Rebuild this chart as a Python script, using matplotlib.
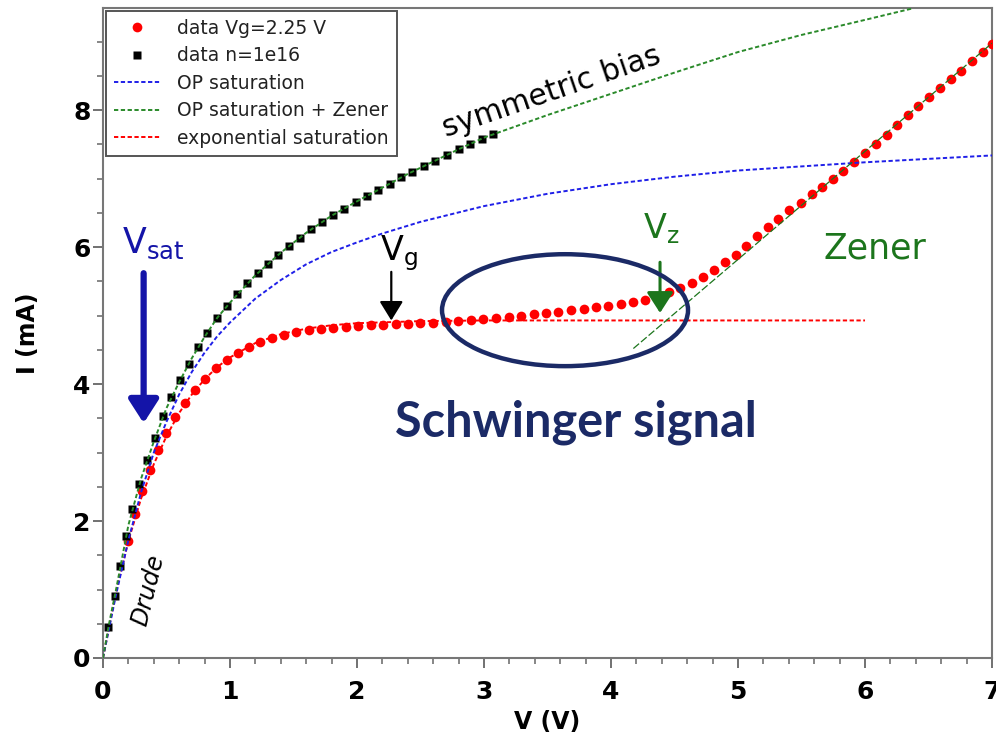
import numpy as np
import matplotlib.pyplot as plt
from matplotlib.patches import Ellipse
from matplotlib.ticker import MultipleLocator

# measured I-V points, V in volts, I in mA
vg_v = [0.194, 0.252, 0.307, 0.37, 0.43, 0.498, 0.569, 0.643, 0.722, 0.803,
        0.887, 0.974, 1.06, 1.15, 1.24, 1.333, 1.428, 1.522, 1.62, 1.714,
        1.813, 1.91, 2.008, 2.108, 2.207, 2.307, 2.404, 2.5, 2.6, 2.698,
        2.797, 2.90, 2.995, 3.092, 3.194, 3.291, 3.394, 3.488, 3.583, 3.685,
        3.785, 3.88, 3.974, 4.076, 4.171, 4.268, 4.365, 4.458, 4.546, 4.636,
        4.724, 4.811, 4.90, 4.984, 5.065, 5.152, 5.238, 5.317, 5.404, 5.494,
        5.58, 5.664, 5.746, 5.829, 5.916, 6.0, 6.087, 6.171, 6.254, 6.339,
        6.42, 6.506, 6.591, 6.675, 6.756, 6.84, 6.927, 6.998]
vg_i = [1.71, 2.10, 2.44, 2.74, 3.04, 3.28, 3.52, 3.73, 3.92, 4.08,
        4.23, 4.35, 4.45, 4.54, 4.61, 4.67, 4.72, 4.76, 4.79, 4.81,
        4.82, 4.84, 4.85, 4.86, 4.87, 4.88, 4.88, 4.89, 4.90, 4.91,
        4.92, 4.93, 4.95, 4.96, 4.98, 4.99, 5.03, 5.04, 5.06, 5.08,
        5.10, 5.12, 5.14, 5.17, 5.20, 5.23, 5.26, 5.34, 5.40, 5.47,
        5.56, 5.66, 5.78, 5.89, 6.02, 6.16, 6.29, 6.41, 6.54, 6.65,
        6.77, 6.88, 6.99, 7.12, 7.25, 7.38, 7.51, 7.64, 7.79, 7.93,
        8.06, 8.19, 8.32, 8.45, 8.57, 8.72, 8.85, 8.97]

n16_v = [0.042, 0.094, 0.136, 0.181, 0.23, 0.286, 0.349, 0.41, 0.472, 0.537,
         0.61, 0.677, 0.75, 0.821, 0.895, 0.974, 1.058, 1.136, 1.218, 1.297,
         1.380, 1.465, 1.551, 1.635, 1.722, 1.808, 1.900, 1.990, 2.076, 2.168,
         2.26, 2.346, 2.435, 2.525, 2.617, 2.711, 2.803, 2.890, 2.982, 3.073]
n16_i = [0.457, 0.905, 1.35, 1.78, 2.18, 2.54, 2.89, 3.21, 3.53, 3.81,
         4.06, 4.30, 4.54, 4.75, 4.96, 5.14, 5.31, 5.47, 5.62, 5.76,
         5.89, 6.02, 6.14, 6.26, 6.37, 6.47, 6.56, 6.66, 6.75, 6.84,
         6.93, 7.02, 7.10, 7.18, 7.26, 7.34, 7.43, 7.50, 7.58, 7.66]

# model curves
op_v = [0, 0.1, 0.2, 0.3, 0.4, 0.5, 0.6, 0.7, 0.8, 0.9, 1.0, 1.2, 1.4, 1.6,
        1.8, 2.0, 2.2, 2.5, 3.0, 3.5, 4.0, 4.5, 5.0, 5.5, 6.0, 6.5, 7.0]
op_i = [0, 0.9, 1.72, 2.42, 3.0, 3.45, 3.85, 4.18, 4.46, 4.7, 4.9, 5.25, 5.52,
        5.75, 5.93, 6.07, 6.2, 6.37, 6.6, 6.78, 6.92, 7.03, 7.12, 7.18, 7.24,
        7.29, 7.34]

opz_v = [0, 0.05, 0.1, 0.2, 0.3, 0.4, 0.5, 0.6, 0.7, 0.8, 0.9, 1.0, 1.2, 1.4,
         1.6, 1.8, 2.0, 2.2, 2.4, 2.6, 2.8, 3.0, 3.5, 4.0, 4.5, 5.0, 5.5, 6.0, 6.38]
opz_i = [0, 0.52, 0.97, 1.94, 2.62, 3.16, 3.65, 4.03, 4.38, 4.69, 4.97, 5.19,
         5.59, 5.92, 6.21, 6.46, 6.67, 6.87, 7.07, 7.25, 7.43, 7.60, 7.93, 8.24,
         8.55, 8.85, 9.1, 9.32, 9.49]

exp_v = [0, 0.1, 0.2, 0.3, 0.4, 0.5, 0.6, 0.7, 0.8, 0.9, 1.0, 1.2, 1.4, 1.6,
         1.8, 2.0, 2.5, 3.0, 4.0, 5.0, 6.0]
exp_i = [0, 0.94, 1.71, 2.33, 2.83, 3.24, 3.58, 3.85, 4.07, 4.25, 4.39, 4.60,
         4.73, 4.81, 4.86, 4.89, 4.92, 4.93, 4.93, 4.93, 4.93]

zener_v = [4.176, 7.0]
zener_i = [4.52, 8.98]

V_G = 2.27
V_Z = 4.386
V_SAT = 0.32

blue = '#1f1fe8'
green = '#2a8a2a'
dkgreen = '#1c751c'
navy = '#1b2a66'
satblue = '#1414a8'

fig = plt.figure(figsize=(9.96, 7.49), dpi=100)
ax = fig.add_axes([0.1034, 0.1215, 0.8926, 0.8675])

ax.plot(vg_v, vg_i, 'o', color='red', ms=7.0, mec='none', label='data Vg=2.25 V', zorder=3)
ax.plot(n16_v, n16_i, 's', color='black', ms=6.0, mec='none', label='data n=1e16', zorder=3)
ax.plot(op_v, op_i, color=blue, lw=1.4, dashes=(2.2, 1.3), label='OP saturation', zorder=4)
ax.plot(opz_v, opz_i, color=green, lw=1.4, dashes=(2.2, 1.3), label='OP saturation + Zener', zorder=4)
ax.plot(exp_v, exp_i, color='red', lw=1.4, dashes=(2.2, 1.3), label='exponential saturation', zorder=2)
ax.plot(zener_v, zener_i, color=dkgreen, lw=0.9, dashes=(6, 2), zorder=4)

ax.set_xlim(0, 7)
ax.set_ylim(0, 9.49)
ax.xaxis.set_major_locator(MultipleLocator(1))
ax.xaxis.set_minor_locator(MultipleLocator(0.2))
ax.yaxis.set_major_locator(MultipleLocator(2))
ax.yaxis.set_minor_locator(MultipleLocator(0.5))
ax.tick_params(which='major', direction='out', length=7, width=1.3, color='#666666',
               labelsize=18)
ax.tick_params(axis='x', which='major', pad=9)
ax.tick_params(axis='y', which='major', pad=2)
ax.tick_params(which='minor', direction='out', length=4, width=1.1, color='#666666')
for lab in ax.get_xticklabels() + ax.get_yticklabels():
    lab.set_fontweight('bold')
for sp in ax.spines.values():
    sp.set_color('#777777')
    sp.set_linewidth(1.5)

ax.set_xlabel('V (V)', fontsize=17, fontweight='bold', labelpad=4)
ax.set_ylabel('I (mA)', fontsize=17, fontweight='bold', labelpad=24)

leg = ax.legend(loc='upper left', bbox_to_anchor=(0.0, 1.0), borderaxespad=0.15,
                fontsize=13.5, handlelength=2.5, handletextpad=0.9, labelspacing=0.45,
                borderpad=0.42, fancybox=False, framealpha=1)
leg.get_frame().set_edgecolor('#555555')
leg.get_frame().set_linewidth(1.4)
for t in leg.get_texts():
    t.set_color('#222222')

# annotations
ax.text(0.15, 5.91, r'$\mathregular{V_{sat}}$', fontsize=25, color=satblue)
ax.annotate('', xy=(V_SAT, 3.43), xytext=(V_SAT, 5.62),
            arrowprops=dict(arrowstyle='-|>,head_length=0.7,head_width=0.45', lw=4.5,
                            color=satblue, shrinkA=0, shrinkB=0, mutation_scale=20))

ax.text(2.18, 5.81, r'$\mathregular{V_{g}}$', fontsize=24, color='black')
ax.annotate('', xy=(V_G, 4.93), xytext=(V_G, 5.64),
            arrowprops=dict(arrowstyle='-|>,head_length=0.65,head_width=0.4', lw=1.6,
                            color='black', shrinkA=0, shrinkB=0, mutation_scale=18))

ax.text(4.25, 6.13, r'$\mathregular{V_{z}}$', fontsize=24, color=dkgreen)
ax.annotate('', xy=(V_Z, 5.04), xytext=(V_Z, 5.78),
            arrowprops=dict(arrowstyle='-|>,head_length=0.7,head_width=0.45', lw=2.2,
                            color=dkgreen, shrinkA=0, shrinkB=0, mutation_scale=18))

ax.text(5.67, 5.84, 'Zener', fontsize=25, color=dkgreen)
ax.text(3.53, 8.27, 'symmetric bias', fontsize=21.5, color='black', rotation=19,
        rotation_mode='anchor', ha='center', va='center')
ax.text(0.36, 0.99, 'Drude', fontsize=17, style='italic', color='black', rotation=76,
        rotation_mode='anchor', ha='center', va='center')

ax.add_patch(Ellipse((3.638, 5.08), 1.937, 1.635, fill=False, ec=navy, lw=3.2, zorder=5))
ax.text(3.724, 3.445, 'Schwinger signal', fontsize=35, fontweight='bold', color=navy,
        family='Lato', ha='center', va='center')

fig.savefig('out.png', dpi=100)
